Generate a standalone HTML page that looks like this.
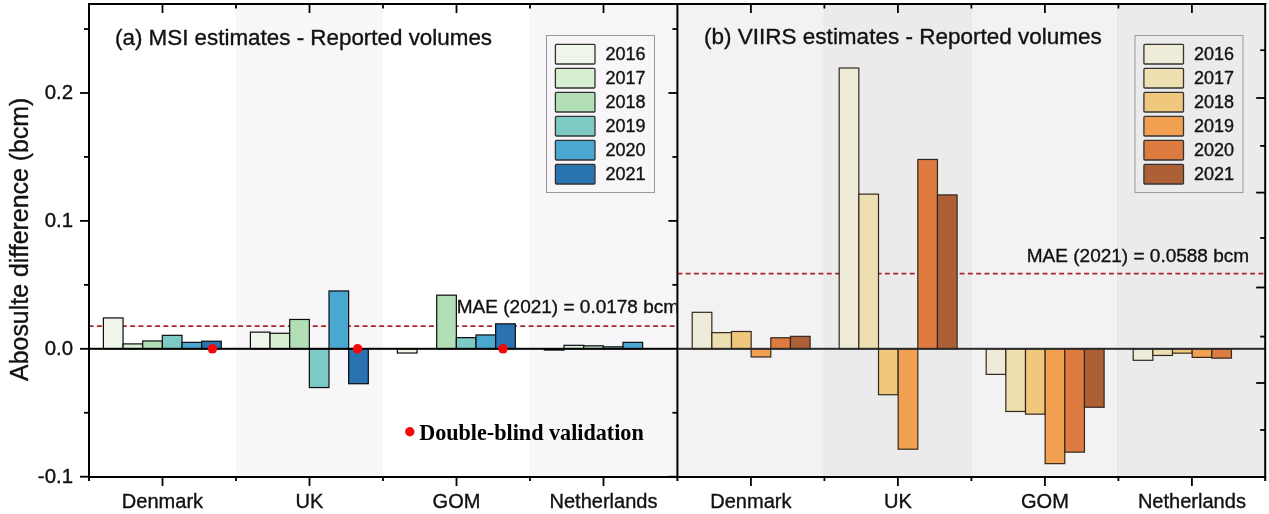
<!DOCTYPE html>
<html><head><meta charset="utf-8"><style>html,body{margin:0;padding:0;background:#fff;}svg{display:block;will-change:transform;}</style></head>
<body>
<svg width="1269" height="514" viewBox="0 0 1269 514">
<rect x="0" y="0" width="1269" height="514" fill="#ffffff"/>
<rect x="235.75" y="5" width="146.75" height="471" fill="#f8f6f8"/>
<rect x="529.25" y="5" width="148.14999999999998" height="471" fill="#f8f6f8"/>
<rect x="677.4" y="5" width="146.75" height="471" fill="#f2f2f2"/>
<rect x="824.15" y="5" width="146.75" height="471" fill="#ebebeb"/>
<rect x="970.9" y="5" width="146.75" height="471" fill="#f2f2f2"/>
<rect x="1117.65" y="5" width="146.75" height="471" fill="#ebebeb"/>
<rect x="823.65" y="5" width="1" height="471" fill="#e4e4e4"/>
<rect x="970.40" y="5" width="1" height="471" fill="#e4e4e4"/>
<rect x="1117.15" y="5" width="1" height="471" fill="#e4e4e4"/>
<line x1="88.7" y1="326.0338" x2="677.4" y2="326.0338" stroke="#aa2626" stroke-width="1.7" stroke-dasharray="4.9 3.4"/>
<line x1="677.4" y1="273.5948" x2="1265.2" y2="273.5948" stroke="#aa2626" stroke-width="1.7" stroke-dasharray="4.9 3.4"/>
<rect x="103.40" y="317.94" width="19.65" height="30.86" fill="#eff6e9" stroke="#0a0c10" stroke-width="1.2"/>
<rect x="123.05" y="343.90" width="19.65" height="4.90" fill="#d7eed1" stroke="#0a0c10" stroke-width="1.2"/>
<rect x="142.70" y="340.96" width="19.65" height="7.84" fill="#b3dfb7" stroke="#0a0c10" stroke-width="1.2"/>
<rect x="162.35" y="335.33" width="19.65" height="13.47" fill="#7ccac3" stroke="#0a0c10" stroke-width="1.2"/>
<rect x="182.00" y="342.37" width="19.65" height="6.43" fill="#4aa7cf" stroke="#0a0c10" stroke-width="1.2"/>
<rect x="201.65" y="341.21" width="19.65" height="7.59" fill="#2a73b1" stroke="#0a0c10" stroke-width="1.2"/>
<rect x="250.40" y="332.13" width="19.65" height="16.67" fill="#eff6e9" stroke="#0a0c10" stroke-width="1.2"/>
<rect x="270.05" y="333.28" width="19.65" height="15.52" fill="#d7eed1" stroke="#0a0c10" stroke-width="1.2"/>
<rect x="289.70" y="319.47" width="19.65" height="29.33" fill="#b3dfb7" stroke="#0a0c10" stroke-width="1.2"/>
<rect x="309.35" y="348.80" width="19.65" height="38.75" fill="#7ccac3" stroke="#0a0c10" stroke-width="1.2"/>
<rect x="329.00" y="290.95" width="19.65" height="57.85" fill="#4aa7cf" stroke="#0a0c10" stroke-width="1.2"/>
<rect x="348.65" y="348.80" width="19.65" height="34.92" fill="#2a73b1" stroke="#0a0c10" stroke-width="1.2"/>
<rect x="397.40" y="348.80" width="19.65" height="4.22" fill="#eff6e9" stroke="#0a0c10" stroke-width="1.2"/>
<rect x="436.70" y="295.17" width="19.65" height="53.63" fill="#b3dfb7" stroke="#0a0c10" stroke-width="1.2"/>
<rect x="456.35" y="337.63" width="19.65" height="11.17" fill="#7ccac3" stroke="#0a0c10" stroke-width="1.2"/>
<rect x="476.00" y="334.95" width="19.65" height="13.85" fill="#4aa7cf" stroke="#0a0c10" stroke-width="1.2"/>
<rect x="495.65" y="323.82" width="19.65" height="24.98" fill="#2a73b1" stroke="#0a0c10" stroke-width="1.2"/>
<rect x="544.40" y="348.80" width="19.65" height="1.28" fill="#eff6e9" stroke="#0a0c10" stroke-width="1.2"/>
<rect x="564.05" y="345.31" width="19.65" height="3.49" fill="#d7eed1" stroke="#0a0c10" stroke-width="1.2"/>
<rect x="583.70" y="345.82" width="19.65" height="2.98" fill="#b3dfb7" stroke="#0a0c10" stroke-width="1.2"/>
<rect x="603.35" y="346.84" width="19.65" height="1.96" fill="#7ccac3" stroke="#0a0c10" stroke-width="1.2"/>
<rect x="623.00" y="342.37" width="19.65" height="6.43" fill="#4aa7cf" stroke="#0a0c10" stroke-width="1.2"/>
<rect x="692.20" y="312.31" width="19.65" height="36.49" fill="#eeecd8" stroke="#33281f" stroke-width="1.2"/>
<rect x="711.85" y="332.65" width="19.65" height="16.15" fill="#eedfb0" stroke="#33281f" stroke-width="1.2"/>
<rect x="731.50" y="331.49" width="19.65" height="17.31" fill="#efc87e" stroke="#33281f" stroke-width="1.2"/>
<rect x="751.15" y="348.80" width="19.65" height="8.19" fill="#f0a050" stroke="#33281f" stroke-width="1.2"/>
<rect x="770.80" y="337.76" width="19.65" height="11.04" fill="#dd7b40" stroke="#33281f" stroke-width="1.2"/>
<rect x="790.45" y="336.35" width="19.65" height="12.45" fill="#ad5f36" stroke="#33281f" stroke-width="1.2"/>
<rect x="839.20" y="68.02" width="19.65" height="280.78" fill="#eeecd8" stroke="#33281f" stroke-width="1.2"/>
<rect x="858.85" y="194.13" width="19.65" height="154.67" fill="#eedfb0" stroke="#33281f" stroke-width="1.2"/>
<rect x="878.50" y="348.80" width="19.65" height="45.92" fill="#efc87e" stroke="#33281f" stroke-width="1.2"/>
<rect x="898.15" y="348.80" width="19.65" height="100.40" fill="#f0a050" stroke="#33281f" stroke-width="1.2"/>
<rect x="917.80" y="159.47" width="19.65" height="189.33" fill="#dd7b40" stroke="#33281f" stroke-width="1.2"/>
<rect x="937.45" y="194.90" width="19.65" height="153.90" fill="#ad5f36" stroke="#33281f" stroke-width="1.2"/>
<rect x="986.20" y="348.80" width="19.65" height="25.58" fill="#eeecd8" stroke="#33281f" stroke-width="1.2"/>
<rect x="1005.85" y="348.80" width="19.65" height="62.67" fill="#eedfb0" stroke="#33281f" stroke-width="1.2"/>
<rect x="1025.50" y="348.80" width="19.65" height="65.36" fill="#efc87e" stroke="#33281f" stroke-width="1.2"/>
<rect x="1045.15" y="348.80" width="19.65" height="114.85" fill="#f0a050" stroke="#33281f" stroke-width="1.2"/>
<rect x="1064.80" y="348.80" width="19.65" height="103.34" fill="#dd7b40" stroke="#33281f" stroke-width="1.2"/>
<rect x="1084.45" y="348.80" width="19.65" height="58.45" fill="#ad5f36" stroke="#33281f" stroke-width="1.2"/>
<rect x="1133.20" y="348.80" width="19.65" height="11.51" fill="#eeecd8" stroke="#33281f" stroke-width="1.2"/>
<rect x="1152.85" y="348.80" width="19.65" height="6.65" fill="#eedfb0" stroke="#33281f" stroke-width="1.2"/>
<rect x="1172.50" y="348.80" width="19.65" height="4.35" fill="#efc87e" stroke="#33281f" stroke-width="1.2"/>
<rect x="1192.15" y="348.80" width="19.65" height="8.57" fill="#f0a050" stroke="#33281f" stroke-width="1.2"/>
<rect x="1211.80" y="348.80" width="19.65" height="9.34" fill="#dd7b40" stroke="#33281f" stroke-width="1.2"/>
<rect x="89.0" y="347.8" width="588.4" height="2" fill="#000"/>
<rect x="677.4" y="347.8" width="587.8000000000001" height="2" fill="#2a2a2a"/>
<circle cx="212.4" cy="348.8" r="4.8" fill="#f50808"/>
<circle cx="357.6" cy="348.8" r="4.8" fill="#f50808"/>
<circle cx="503.0" cy="348.8" r="4.8" fill="#f50808"/>
<clipPath id="ca"><rect x="89" y="0" width="587.4" height="514"/></clipPath>
<text x="456.8" y="312.9" font-family="Liberation Sans, sans-serif" stroke="#111" stroke-width="0.35" font-size="19" fill="#111" clip-path="url(#ca)">MAE (2021) = 0.0178 bcm</text>
<text x="1026.8" y="262" font-family="Liberation Sans, sans-serif" stroke="#111" stroke-width="0.35" font-size="19" fill="#111">MAE (2021) = 0.0588 bcm</text>
<text x="115" y="44.5" font-family="Liberation Sans, sans-serif" stroke="#111" stroke-width="0.35" font-size="22.4" fill="#111">(a) MSI estimates - Reported volumes</text>
<text x="704.1" y="44.4" font-family="Liberation Sans, sans-serif" stroke="#111" stroke-width="0.35" font-size="22.5" fill="#111">(b) VIIRS estimates - Reported volumes</text>
<rect x="546.5" y="35.5" width="108" height="157" fill="none" stroke="#999" stroke-width="1"/>
<rect x="555.4" y="44.4" width="39.6" height="19.6" rx="1" fill="#eff6e9" stroke="#333" stroke-width="1.3"/>
<text x="605.5" y="60.1" font-family="Liberation Sans, sans-serif" stroke="#111" stroke-width="0.35" font-size="18" fill="#111">2016</text>
<rect x="555.4" y="68.4" width="39.6" height="19.6" rx="1" fill="#d7eed1" stroke="#333" stroke-width="1.3"/>
<text x="605.5" y="84.1" font-family="Liberation Sans, sans-serif" stroke="#111" stroke-width="0.35" font-size="18" fill="#111">2017</text>
<rect x="555.4" y="92.4" width="39.6" height="19.6" rx="1" fill="#b3dfb7" stroke="#333" stroke-width="1.3"/>
<text x="605.5" y="108.1" font-family="Liberation Sans, sans-serif" stroke="#111" stroke-width="0.35" font-size="18" fill="#111">2018</text>
<rect x="555.4" y="116.4" width="39.6" height="19.6" rx="1" fill="#7ccac3" stroke="#333" stroke-width="1.3"/>
<text x="605.5" y="132.1" font-family="Liberation Sans, sans-serif" stroke="#111" stroke-width="0.35" font-size="18" fill="#111">2019</text>
<rect x="555.4" y="140.4" width="39.6" height="19.6" rx="1" fill="#4aa7cf" stroke="#333" stroke-width="1.3"/>
<text x="605.5" y="156.1" font-family="Liberation Sans, sans-serif" stroke="#111" stroke-width="0.35" font-size="18" fill="#111">2020</text>
<rect x="555.4" y="164.4" width="39.6" height="19.6" rx="1" fill="#2a73b1" stroke="#333" stroke-width="1.3"/>
<text x="605.5" y="180.1" font-family="Liberation Sans, sans-serif" stroke="#111" stroke-width="0.35" font-size="18" fill="#111">2021</text>
<rect x="1135.0" y="35.5" width="108" height="157" fill="none" stroke="#999" stroke-width="1"/>
<rect x="1143.9" y="44.4" width="39.6" height="19.6" rx="1" fill="#eeecd8" stroke="#333" stroke-width="1.3"/>
<text x="1194.0" y="60.1" font-family="Liberation Sans, sans-serif" stroke="#111" stroke-width="0.35" font-size="18" fill="#111">2016</text>
<rect x="1143.9" y="68.4" width="39.6" height="19.6" rx="1" fill="#eedfb0" stroke="#333" stroke-width="1.3"/>
<text x="1194.0" y="84.1" font-family="Liberation Sans, sans-serif" stroke="#111" stroke-width="0.35" font-size="18" fill="#111">2017</text>
<rect x="1143.9" y="92.4" width="39.6" height="19.6" rx="1" fill="#efc87e" stroke="#333" stroke-width="1.3"/>
<text x="1194.0" y="108.1" font-family="Liberation Sans, sans-serif" stroke="#111" stroke-width="0.35" font-size="18" fill="#111">2018</text>
<rect x="1143.9" y="116.4" width="39.6" height="19.6" rx="1" fill="#f0a050" stroke="#333" stroke-width="1.3"/>
<text x="1194.0" y="132.1" font-family="Liberation Sans, sans-serif" stroke="#111" stroke-width="0.35" font-size="18" fill="#111">2019</text>
<rect x="1143.9" y="140.4" width="39.6" height="19.6" rx="1" fill="#dd7b40" stroke="#333" stroke-width="1.3"/>
<text x="1194.0" y="156.1" font-family="Liberation Sans, sans-serif" stroke="#111" stroke-width="0.35" font-size="18" fill="#111">2020</text>
<rect x="1143.9" y="164.4" width="39.6" height="19.6" rx="1" fill="#ad5f36" stroke="#333" stroke-width="1.3"/>
<text x="1194.0" y="180.1" font-family="Liberation Sans, sans-serif" stroke="#111" stroke-width="0.35" font-size="18" fill="#111">2021</text>
<circle cx="409.8" cy="431.8" r="4.7" fill="#f50808"/>
<text x="419.2" y="439.6" font-family="Liberation Serif, serif" font-weight="bold" font-size="22.15" fill="#000">Double-blind validation</text>
<rect x="88" y="3" width="1178.2" height="2" fill="#000"/>
<rect x="88" y="3" width="2" height="478" fill="#000"/>
<rect x="676.4" y="3" width="2" height="478" fill="#000"/>
<rect x="1264.2" y="3" width="2" height="478" fill="#000"/>
<rect x="88" y="476" width="1178.2" height="2" fill="#000"/>
<rect x="84" y="28.15" width="5" height="1.8" fill="#000"/>
<rect x="672.4" y="28.15" width="5" height="1.8" fill="#000"/>
<rect x="80" y="92.10" width="9" height="1.8" fill="#000"/>
<rect x="668.4" y="92.10" width="9" height="1.8" fill="#000"/>
<rect x="84" y="156.05" width="5" height="1.8" fill="#000"/>
<rect x="672.4" y="156.05" width="5" height="1.8" fill="#000"/>
<rect x="80" y="220.00" width="9" height="1.8" fill="#000"/>
<rect x="668.4" y="220.00" width="9" height="1.8" fill="#000"/>
<rect x="84" y="283.95" width="5" height="1.8" fill="#000"/>
<rect x="672.4" y="283.95" width="5" height="1.8" fill="#000"/>
<rect x="80" y="347.90" width="9" height="1.8" fill="#000"/>
<rect x="84" y="411.85" width="5" height="1.8" fill="#000"/>
<rect x="672.4" y="411.85" width="5" height="1.8" fill="#000"/>
<rect x="80" y="475.80" width="9" height="1.8" fill="#000"/>
<rect x="668.4" y="475.80" width="9" height="1.8" fill="#000"/>
<rect x="1260.2" y="49.30" width="5" height="1.8" fill="#000"/>
<rect x="1256.2" y="97.10" width="9" height="1.8" fill="#000"/>
<rect x="1260.2" y="145.00" width="5" height="1.8" fill="#000"/>
<rect x="1256.2" y="191.70" width="9" height="1.8" fill="#000"/>
<rect x="1260.2" y="237.10" width="5" height="1.8" fill="#000"/>
<rect x="1256.2" y="286.60" width="9" height="1.8" fill="#000"/>
<rect x="1260.2" y="335.70" width="5" height="1.8" fill="#000"/>
<rect x="1256.2" y="382.10" width="9" height="1.8" fill="#000"/>
<rect x="1260.2" y="429.10" width="5" height="1.8" fill="#000"/>
<rect x="161.60" y="477" width="1.8" height="9" fill="#000"/>
<rect x="161.60" y="4" width="1.8" height="9" fill="#000"/>
<rect x="308.60" y="477" width="1.8" height="9" fill="#000"/>
<rect x="308.60" y="4" width="1.8" height="9" fill="#000"/>
<rect x="235.10" y="477" width="1.8" height="4" fill="#000"/>
<rect x="235.10" y="4" width="1.8" height="4.5" fill="#000"/>
<rect x="455.60" y="477" width="1.8" height="9" fill="#000"/>
<rect x="455.60" y="4" width="1.8" height="9" fill="#000"/>
<rect x="382.10" y="477" width="1.8" height="4" fill="#000"/>
<rect x="382.10" y="4" width="1.8" height="4.5" fill="#000"/>
<rect x="602.60" y="477" width="1.8" height="9" fill="#000"/>
<rect x="602.60" y="4" width="1.8" height="9" fill="#000"/>
<rect x="529.10" y="477" width="1.8" height="4" fill="#000"/>
<rect x="529.10" y="4" width="1.8" height="4.5" fill="#000"/>
<rect x="750.00" y="477" width="1.8" height="9" fill="#000"/>
<rect x="750.00" y="4" width="1.8" height="9" fill="#000"/>
<rect x="897.00" y="477" width="1.8" height="9" fill="#000"/>
<rect x="897.00" y="4" width="1.8" height="9" fill="#000"/>
<rect x="823.50" y="477" width="1.8" height="4" fill="#000"/>
<rect x="823.50" y="4" width="1.8" height="4.5" fill="#000"/>
<rect x="1044.00" y="477" width="1.8" height="9" fill="#000"/>
<rect x="1044.00" y="4" width="1.8" height="9" fill="#000"/>
<rect x="970.50" y="477" width="1.8" height="4" fill="#000"/>
<rect x="970.50" y="4" width="1.8" height="4.5" fill="#000"/>
<rect x="1191.00" y="477" width="1.8" height="9" fill="#000"/>
<rect x="1191.00" y="4" width="1.8" height="9" fill="#000"/>
<rect x="1117.50" y="477" width="1.8" height="4" fill="#000"/>
<rect x="1117.50" y="4" width="1.8" height="4.5" fill="#000"/>
<text x="73" y="99.20" font-family="Liberation Sans, sans-serif" stroke="#111" stroke-width="0.35" font-size="20.4" text-anchor="end" fill="#111">0.2</text>
<text x="73" y="227.10" font-family="Liberation Sans, sans-serif" stroke="#111" stroke-width="0.35" font-size="20.4" text-anchor="end" fill="#111">0.1</text>
<text x="73" y="355.00" font-family="Liberation Sans, sans-serif" stroke="#111" stroke-width="0.35" font-size="20.4" text-anchor="end" fill="#111">0.0</text>
<text x="73" y="482.90" font-family="Liberation Sans, sans-serif" stroke="#111" stroke-width="0.35" font-size="20.4" text-anchor="end" fill="#111">-0.1</text>
<text x="162.50" y="508.0" font-family="Liberation Sans, sans-serif" stroke="#111" stroke-width="0.35" font-size="20.05" text-anchor="middle" fill="#111">Denmark</text>
<text x="309.50" y="508.0" font-family="Liberation Sans, sans-serif" stroke="#111" stroke-width="0.35" font-size="20.05" text-anchor="middle" fill="#111">UK</text>
<text x="456.50" y="508.0" font-family="Liberation Sans, sans-serif" stroke="#111" stroke-width="0.35" font-size="20.05" text-anchor="middle" fill="#111">GOM</text>
<text x="603.50" y="508.0" font-family="Liberation Sans, sans-serif" stroke="#111" stroke-width="0.35" font-size="20.05" text-anchor="middle" fill="#111">Netherlands</text>
<text x="750.90" y="508.0" font-family="Liberation Sans, sans-serif" stroke="#111" stroke-width="0.35" font-size="20.05" text-anchor="middle" fill="#111">Denmark</text>
<text x="897.90" y="508.0" font-family="Liberation Sans, sans-serif" stroke="#111" stroke-width="0.35" font-size="20.05" text-anchor="middle" fill="#111">UK</text>
<text x="1044.90" y="508.0" font-family="Liberation Sans, sans-serif" stroke="#111" stroke-width="0.35" font-size="20.05" text-anchor="middle" fill="#111">GOM</text>
<text x="1191.90" y="508.0" font-family="Liberation Sans, sans-serif" stroke="#111" stroke-width="0.35" font-size="20.05" text-anchor="middle" fill="#111">Netherlands</text>
<text transform="translate(27.6,239.3) rotate(-90)" font-family="Liberation Sans, sans-serif" stroke="#111" stroke-width="0.35" font-size="24.9" text-anchor="middle" fill="#111">Abosulte difference (bcm)</text>
</svg>
</body></html>
